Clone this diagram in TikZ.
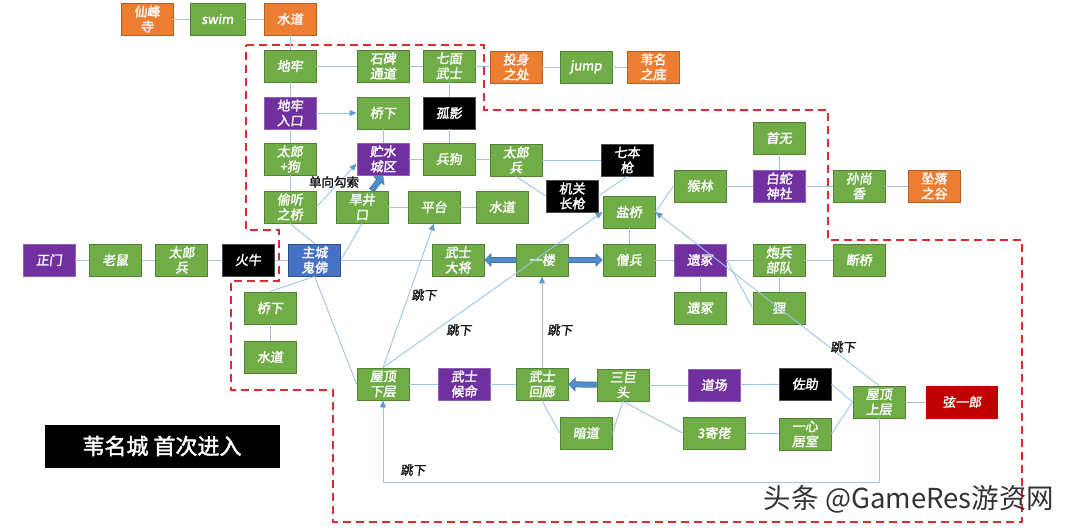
\documentclass[tikz,border=0pt]{standalone}
\usepackage{fontspec}
\setmainfont{Noto Sans CJK SC}
\newfontfamily\boxfont[FakeSlant=0.12,FakeBold=2]{Noto Sans CJK SC}
\newfontfamily\plainfont[FakeBold=2]{Noto Sans CJK SC}
\usetikzlibrary{arrows.meta, positioning}

\definecolor{areagreen}{HTML}{70AD47}
\definecolor{areaedge}{HTML}{548235}
\definecolor{exitorange}{HTML}{ED7D31}
\definecolor{exitedge}{HTML}{B55D22}
\definecolor{idolpurple}{HTML}{7030A0}
\definecolor{idoledge}{HTML}{8E62B8}
\definecolor{startblue}{HTML}{4472C4}
\definecolor{startedge}{HTML}{2F528F}
\definecolor{finalred}{HTML}{C00000}
\definecolor{linkblue}{HTML}{9DC3E6}
\definecolor{tipblue}{HTML}{5B9BD5}
\definecolor{blockblue}{HTML}{4F8DCB}
\definecolor{blockedge}{HTML}{41719C}
\definecolor{dashred}{HTML}{DC2A2E}

\begin{document}
\begin{tikzpicture}[x=1pt,y=-1pt]

\tikzstyle{box}=[draw, line width=0.9pt, minimum width=52pt, minimum height=32pt, inner sep=1pt, align=center, text=white, font=\boxfont\fontsize{13}{15}\selectfont]
\tikzstyle{area}=[box, fill=areagreen, draw=areaedge]
\tikzstyle{exit}=[box, fill=exitorange, draw=exitedge]
\tikzstyle{idol}=[box, fill=idolpurple, draw=idoledge]
\tikzstyle{boss}=[box, fill=black, draw=black!70]
\tikzstyle{start}=[box, fill=startblue, draw=startedge]
\tikzstyle{final}=[box, fill=finalred, draw=finalred, minimum width=71pt]
\tikzstyle{link}=[draw=linkblue, line width=0.9pt, >={Triangle[length=7pt,width=6pt,color=tipblue]}]
\tikzstyle{thick arrow}=[draw=blockblue, line width=4.5pt, -{Triangle[length=6pt,width=12pt]},
  preaction={draw=blockedge, line width=6pt, -{Triangle[length=7pt,width=14pt]}}]
\tikzstyle{jumplabel}=[font=\boxfont\fontsize{12.5}{14}\selectfont, text=black!90]

\useasboundingbox (0,0) rectangle (1080,531);

% region of the first visit
\draw[dashred, line width=1.4pt, dash pattern=on 8pt off 5pt]
(246,45) -- (484,45) -- (484,110) -- (828,110) -- (828,240) -- (1022,240)
-- (1022,522) -- (333,522) -- (333,390) -- (231,390) -- (231,281) -- (279,281)
-- (279,230) -- (246,230) -- cycle;

% top rows
\node[exit] (xianfeng) at (147,19) {仙峰\\寺};
\node[area, minimum width=55pt] (swim) at (217.5,19) {swim};
\node[exit] (shuidaoA) at (290,19) {水道};
\node[area] (dilao) at (290,66) {地牢};
\node[area] (shibei) at (383,66) {石碑\\通道};
\node[area] (qimian) at (449,66) {七面\\武士};
\node[exit] (toushen) at (516,67) {投身\\之处};
\node[area] (jump) at (586,67) {jump};
\node[exit] (weimingdi) at (653,67) {苇名\\之底};
\node[idol] (dilaork) at (290,113) {地牢\\入口};
\node[area] (qiaoxiaA) at (383,113) {桥下};
\node[boss] (guying) at (449,113) {孤影};
\node[area] (tailanggou) at (290,159) {太郎\\+狗};
\node[idol] (zhushui) at (383,159) {贮水\\城区};
\node[area] (binggou) at (449,159) {兵狗};
\node[area] (tailangbingA) at (516,160) {太郎\\兵};
\node[boss] (qiben) at (627,160) {七本\\枪};
\node[boss] (jiguan) at (572,196) {机关\\长枪};
\node[area] (touting) at (290,207) {偷听\\之桥};
\node[area] (hanjing) at (362,207) {旱井\\口};
\node[area] (pingtai) at (434,207) {平台};
\node[area] (shuidaoB) at (502,207) {水道};
\node[area] (yanqiao) at (629,212) {盐桥};
\node[area] (houlin) at (700,186) {猴林};
\node[area] (shouwu) at (779,138) {首无};
\node[idol] (baishe) at (779,186) {白蛇\\神社};
\node[area] (sunshang) at (859,186) {孙尚\\香};
\node[exit] (zhuiluo) at (934,186) {坠落\\之谷};

% main gate row
\node[idol] (zhengmen) at (49,260) {正门};
\node[area, right=13.5pt of zhengmen] (laoshu) {老鼠};
\node[area, right=13.5pt of laoshu] (tailangbingB) {太郎\\兵};
\node[boss, right=13.5pt of tailangbingB] (huoniu) {火牛};
\node[start, right=13.5pt of huoniu] (guifo) {主城\\鬼佛};
\node[area] (wushidajiang) at (458,260) {武士\\大将};
\node[area] (yilou) at (542,260) {一楼};
\node[area] (sengbing) at (629,260) {僧兵};
\node[idol] (yizhongA) at (700,260) {遗冢};
\node[area] (paobing) at (779,260) {炮兵\\部队};
\node[area] (duanqiao) at (859,260) {断桥};
\node[area] (yizhongB) at (700,308) {遗冢};
\node[area] (li) at (779,308) {狸};
\node[area] (qiaoxiaB) at (270,308) {桥下};
\node[area] (shuidaoC) at (270,357) {水道};

% roof rows
\node[area] (wuding1) at (383,384) {屋顶\\下层};
\node[idol] (houming) at (464,384) {武士\\候命};
\node[area] (huilang) at (542,384) {武士\\回廊};
\node[area] (sanjutou) at (623,385) {三巨\\头};
\node[area] (andao) at (586,433) {暗道};
\node[idol] (daochang) at (714,385) {道场};
\node[boss] (zuozhu) at (805,384) {佐助};
\node[area, minimum width=62pt] (jilao) at (714,433) {3寄佬};
\node[area] (yixin) at (805,434) {一心\\居室};
\node[area] (wuding2) at (879,402) {屋顶\\上层};
\node[final] (xianyilang) at (962,402) {弦一郎};

\node[fill=black, text=white, minimum width=235pt, minimum height=43pt, font=\plainfont\fontsize{22}{26}\selectfont] (title) at (162,446) {苇名城 首次进入};

\draw[link]
(xianfeng) edge (swim)
(swim) edge (shuidaoA)
(shuidaoA) edge (dilao)
(dilao) edge (shibei)
(shibei) edge (qimian)
(qimian) edge (toushen)
(toushen) edge (jump)
(jump) edge (weimingdi)
(qimian) edge (guying)
(guying) edge (binggou)
(dilao) edge (dilaork)
(dilaork) edge[->] (qiaoxiaA)
(qiaoxiaA) edge (zhushui)
(dilaork) edge (tailanggou)
(tailanggou) edge (touting)
(touting.east) edge[->] (zhushui.190)
(zhushui) edge (binggou)
(binggou) edge (tailangbingA)
(tailangbingA) edge (qiben)
(tailangbingA.south) edge (jiguan.west)
(jiguan.east) edge (qiben.south)
(hanjing) edge (pingtai)
(pingtai) edge (shuidaoB)
(touting.south) edge (guifo.north)
(hanjing.south) edge (guifo.east)
(zhengmen) edge (laoshu)
(laoshu) edge (tailangbingB)
(tailangbingB) edge (huoniu)
(huoniu) edge (guifo)
(guifo) edge (wushidajiang)
(guifo.south) edge (qiaoxiaB.north)
(qiaoxiaB) edge (shuidaoC)
(guifo.south) edge (wuding1.west)
(wuding1.north) edge[->] (pingtai.south)
(wuding1.north) edge[->] (yanqiao.west)
(huilang) edge[->] (yilou)
(yanqiao) edge (sengbing)
(houlin.west) edge (yanqiao.east)
(houlin) edge (baishe)
(baishe) edge (shouwu)
(baishe) edge (sunshang)
(sunshang) edge (zhuiluo)
(sengbing) edge (yizhongA)
(yizhongA) edge (paobing)
(paobing) edge (duanqiao)
(yizhongA) edge (yizhongB)
(paobing) edge (li)
(yizhongA.east) edge (li.west)
(wuding2.north) edge[->] (yanqiao.east)
(wuding1) edge (houming)
(houming) edge (huilang)
(huilang.south) edge (andao.west)
(andao.east) edge (sanjutou.south)
(sanjutou.south) edge (jilao.west)
(jilao) edge (yixin)
(sanjutou) edge (daochang)
(daochang) edge (zuozhu)
(zuozhu.east) edge (wuding2.west)
(yixin.east) edge (wuding2.west)
(wuding2) edge (xianyilang);

\coordinate (drop) at (0,482);
\draw[link, ->] (wuding2.south) -- (wuding2.south |- drop) -| (wuding1.south);

\draw[thick arrow] (hanjing.60) -- (zhushui.south);
\draw[thick arrow] (yilou) -- (wushidajiang);
\draw[thick arrow] (yilou) -- (sengbing);
\draw[thick arrow] (sanjutou) -- (huilang);

\node[font=\plainfont\fontsize{12.5}{14}\selectfont, text=black!90] (gousuo) at (334,182) {单向勾索};
\node[jumplabel] (tiaoxiaA) at (424,295) {跳下};
\node[jumplabel] (tiaoxiaB) at (459,330) {跳下};
\node[jumplabel] (tiaoxiaC) at (560,330) {跳下};
\node[jumplabel] (tiaoxiaD) at (413,470) {跳下};
\node[jumplabel] (tiaoxiaE) at (843,347) {跳下};

\node[font=\fontsize{27.5}{31}\selectfont, text=black!80] (watermark) at (909,499) {头条 @GameRes游资网};

\end{tikzpicture}
\end{document}
